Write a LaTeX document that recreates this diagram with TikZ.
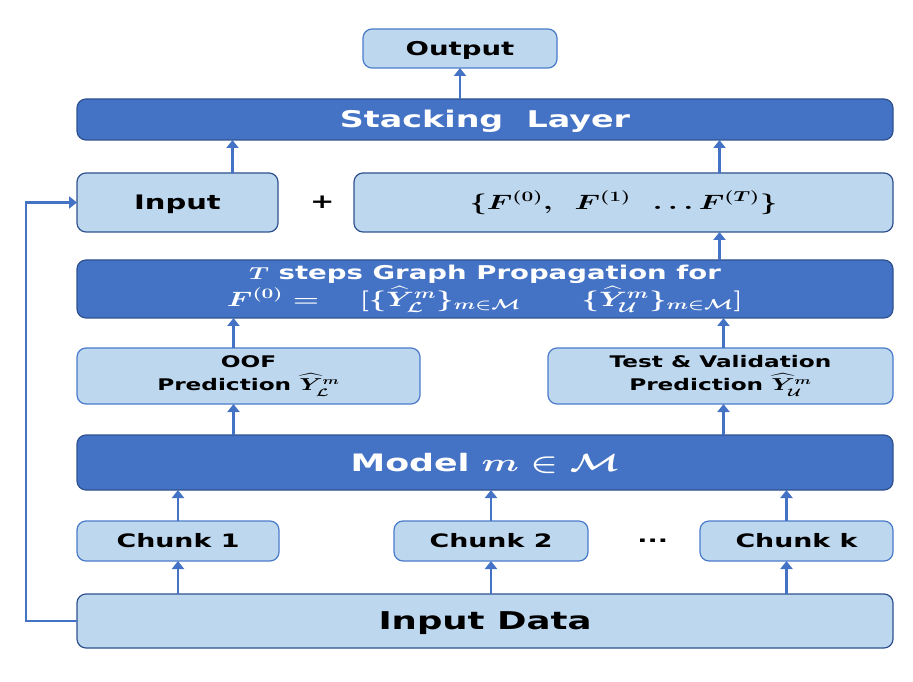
\documentclass[tikz,border=0pt]{standalone}
\usepackage{amsmath}
\usepackage{amssymb}
\usepackage{fontspec}
\usepackage{tikz}
\usepackage{xcolor}
\usetikzlibrary{arrows.meta, positioning}

\newfontfamily\boxfont{DejaVu Sans}[FakeStretch=1.45]
\newcommand{\wide}[1]{\scalebox{1.45}[1]{#1}}

\definecolor{darkblue}{HTML}{4472C4}
\definecolor{lightblue}{HTML}{BDD7EE}
\definecolor{boxedge}{HTML}{2F528F}
\definecolor{softedge}{HTML}{4A7BCB}
\definecolor{arrowblue}{HTML}{4472C4}

\begin{document}
\begin{tikzpicture}[
    x=1pt, y=1pt,
    every node/.style={align=center, inner sep=0pt, outer sep=0pt},
    darkbox/.style={rectangle, rounded corners=9pt, draw=boxedge, fill=darkblue, text=white, line width=1.2pt},
    lightbox/.style={rectangle, rounded corners=9pt, draw=boxedge, fill=lightblue, text=black, line width=1.2pt},
    softbox/.style={lightbox, draw=softedge},
    arrow/.style={draw=arrowblue, line width=2.8pt, -{Triangle[length=8pt,width=12pt]}}
]
\useasboundingbox (0,0) rectangle (913,681);

% Output and stacking
\node (output) [softbox, minimum width=194pt, minimum height=39pt, text height=13.9pt, text depth=0pt, font=\boxfont\bfseries\fontsize{19}{22}\selectfont] at (460,632.5) {Output};
\node (stack) [darkbox, below=31pt of output, xshift=25pt, minimum width=816pt, minimum height=41pt, text height=16.8pt, text depth=0pt, font=\boxfont\bfseries\fontsize{23}{26}\selectfont] {Stacking~~Layer};

% Input and propagated features
\node (input) [lightbox, below=33pt of stack.south west, anchor=north west, minimum width=201pt, minimum height=59pt, text height=14.6pt, text depth=0pt, font=\boxfont\bfseries\fontsize{20}{24}\selectfont] {Input};
\node (feats) [lightbox, below=33pt of stack.south east, anchor=north east, minimum width=539pt, minimum height=59pt, font=\boxfont\bfseries\boldmath\fontsize{22}{26}\selectfont] {\wide{$\{F^{(0)},\ F^{(1)}\ \ldots F^{(T)}\}$}};
\node (plus) [right=32pt of input, font=\boxfont\bfseries\fontsize{20}{24}\selectfont] {+};

% Graph propagation
\node (graph) [darkbox, below=28pt of input.south west, anchor=north west, minimum width=816pt, minimum height=58pt, font=\boxfont\bfseries\boldmath\fontsize{19}{27}\selectfont] {\wide{$T$} steps Graph Propagation for\\ {\fontsize{21}{27}\selectfont\wide{$F^{(0)} =\ \ [\{\widehat{Y}^{m}_{\mathcal{L}}\}_{m\in\mathcal{M}} \qquad \{\widehat{Y}^{m}_{\mathcal{U}}\}_{m\in\mathcal{M}}]$}}};

% Predictions
\node (oof) [softbox, below=30pt of graph.south west, anchor=north west, minimum width=343pt, minimum height=56pt, font=\boxfont\bfseries\boldmath\fontsize{16}{23}\selectfont] {OOF\\ Prediction \wide{$\widehat{Y}^{m}_{\mathcal{L}}$}};
\node (test) [softbox, below=30pt of graph.south east, anchor=north east, minimum width=345pt, minimum height=56pt, font=\boxfont\bfseries\boldmath\fontsize{16}{23}\selectfont] {Test \& Validation\\ Prediction \wide{$\widehat{Y}^{m}_{\mathcal{U}}$}};

% Model
\node (model) [darkbox, below=31pt of oof.south west, anchor=north west, minimum width=816pt, minimum height=55pt, text height=17.5pt, text depth=0pt, font=\boxfont\bfseries\boldmath\fontsize{24}{28}\selectfont] {Model \wide{$m \in \mathcal{M}$}};

% Chunks
\node (chunk1) [softbox, below=31pt of model.south west, anchor=north west, minimum width=202pt, minimum height=40pt, text height=13.5pt, text depth=0pt, font=\boxfont\bfseries\fontsize{18.5}{22}\selectfont] {Chunk 1};
\node (chunk2) [softbox, right=115pt of chunk1, minimum width=194pt, minimum height=40pt, text height=13.5pt, text depth=0pt, font=\boxfont\bfseries\fontsize{18.5}{22}\selectfont] {Chunk 2};
\node (chunkk) [softbox, below=31pt of model.south east, anchor=north east, minimum width=193pt, minimum height=40pt, text height=13.5pt, text depth=0pt, font=\boxfont\bfseries\fontsize{18.5}{22}\selectfont] {Chunk k};
\node (dots) [left=32pt of chunkk, font=\boxfont\bfseries\fontsize{18.5}{22}\selectfont] {...};

% Input data
\node (data) [lightbox, below=33pt of chunk1.south west, anchor=north west, minimum width=816pt, minimum height=54pt, text height=17.9pt, text depth=0pt, font=\boxfont\bfseries\fontsize{24.5}{28}\selectfont] {Input Data};

% Arrows
\draw [arrow] (data.north -| chunk1) -- (chunk1.south);
\draw [arrow] (data.north -| chunk2) -- (chunk2.south);
\draw [arrow] ([xshift=-10pt]chunkk.south |- data.north) -- ([xshift=-10pt]chunkk.south);
\draw [arrow] (chunk1.north) -- (chunk1.north |- model.south);
\draw [arrow] (chunk2.north) -- (chunk2.north |- model.south);
\draw [arrow] ([xshift=-10pt]chunkk.north) -- ([xshift=-10pt]chunkk.north |- model.south);
\draw [arrow] ([xshift=-15pt]oof.south |- model.north) -- ([xshift=-15pt]oof.south);
\draw [arrow] ([xshift=3pt]test.south |- model.north) -- ([xshift=3pt]test.south);
\draw [arrow] ([xshift=-15pt]oof.north) -- ([xshift=-15pt]oof.north |- graph.south);
\draw [arrow] ([xshift=3pt]test.north) -- ([xshift=3pt]test.north |- graph.south);
\draw [arrow] ([xshift=96pt]feats.south |- graph.north) -- ([xshift=96pt]feats.south);
\draw [arrow] ([xshift=55pt]input.north) -- ([xshift=55pt]input.north |- stack.south);
\draw [arrow] ([xshift=96pt]feats.north) -- ([xshift=96pt]feats.north |- stack.south);
\draw [arrow] (output.south |- stack.north) -- (output.south);

% Feedback of the raw input
\draw [arrow] (data.west) -- ++(-51pt,0) |- (input.west);

\end{tikzpicture}
\end{document}
